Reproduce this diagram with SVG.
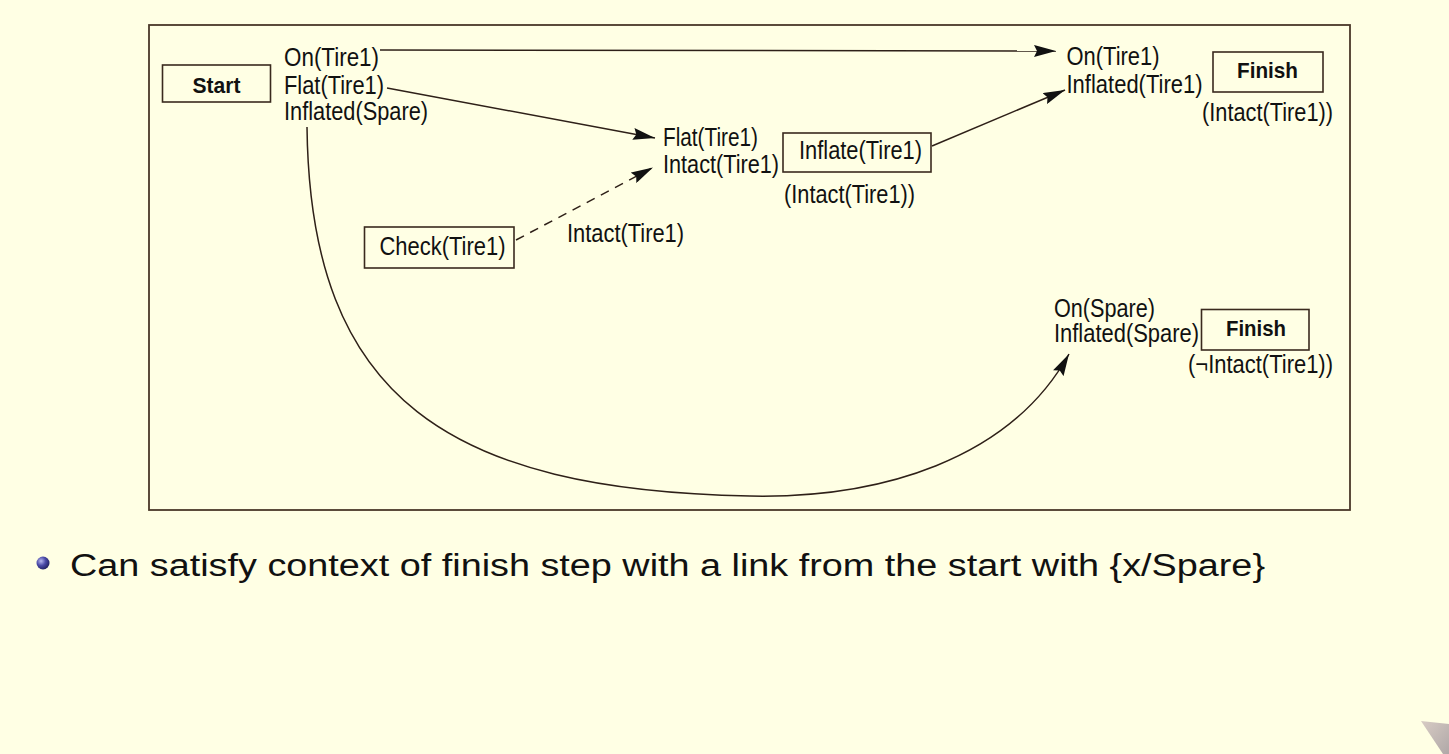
<svg xmlns="http://www.w3.org/2000/svg" width="1449" height="754" viewBox="0 0 1449 754">
<defs>
<style>
.t{font-family:"Liberation Sans",Arial,sans-serif;font-size:25px;fill:#111;}
.b{font-family:"Liberation Sans",Arial,sans-serif;font-size:22px;font-weight:bold;fill:#111;}
.box{fill:none;stroke:#3a2a1e;stroke-width:1.6;}
.ln{fill:none;stroke:#2e2018;stroke-width:1.5;}
.bul{font-family:"Liberation Sans",Arial,sans-serif;font-size:31px;fill:#111;}
</style>
<marker id="ah" viewBox="0 0 22 12" refX="22" refY="6" markerWidth="22" markerHeight="12" markerUnits="userSpaceOnUse" orient="auto">
<path d="M0,0 L22,6 L0,12 L3,6 z" fill="#111"/>
</marker>
<radialGradient id="bg" cx="0.35" cy="0.35" r="0.7">
<stop offset="0" stop-color="#b8b8f0"/>
<stop offset="0.5" stop-color="#4a4aa8"/>
<stop offset="1" stop-color="#202060"/>
</radialGradient>
<linearGradient id="curl" x1="0" y1="0" x2="1" y2="1">
<stop offset="0" stop-color="#d8ccc4"/>
<stop offset="1" stop-color="#b0a8a8"/>
</linearGradient>
</defs>
<rect width="1449" height="754" fill="#FFFFE4"/>
<rect x="149" y="25" width="1201" height="485" fill="none" stroke="#4a3828" stroke-width="1.8"/>

<g id="connectors">
<path class="ln" d="M380,50 L1056,51" marker-end="url(#ah)"/>
<path class="ln" d="M387,88 L655,138" marker-end="url(#ah)"/>
<path class="ln" d="M516,240 L653,167.5" stroke-dasharray="9,7" marker-end="url(#ah)"/>
<path class="ln" d="M932,146 L1065,90" marker-end="url(#ah)"/>
<path class="ln" d="M307,127 C310,400 450,490 750,496 C880,498.6 1010,460 1069,354" marker-end="url(#ah)"/>
</g>

<g id="start">
<rect class="box" x="162.5" y="65" width="108" height="37"/>
<text class="b" x="192.5" y="92.5" textLength="48" lengthAdjust="spacingAndGlyphs">Start</text>
<text class="t" x="284" y="65.5" textLength="95" lengthAdjust="spacingAndGlyphs">On(Tire1)</text>
<text class="t" x="284" y="93.5" textLength="100" lengthAdjust="spacingAndGlyphs">Flat(Tire1)</text>
<text class="t" x="284" y="120" textLength="144" lengthAdjust="spacingAndGlyphs">Inflated(Spare)</text>
</g>

<g id="finish1">
<text class="t" x="1066.5" y="65" textLength="93" lengthAdjust="spacingAndGlyphs">On(Tire1)</text>
<text class="t" x="1066.5" y="92.5" textLength="136" lengthAdjust="spacingAndGlyphs">Inflated(Tire1)</text>
<rect class="box" x="1213" y="52" width="110" height="40"/>
<text class="b" x="1237" y="78" textLength="61" lengthAdjust="spacingAndGlyphs">Finish</text>
<text class="t" x="1202" y="120.5" textLength="131" lengthAdjust="spacingAndGlyphs">(Intact(Tire1))</text>
</g>

<g id="inflate">
<text class="t" x="663" y="146" textLength="95" lengthAdjust="spacingAndGlyphs">Flat(Tire1)</text>
<text class="t" x="663" y="173" textLength="116" lengthAdjust="spacingAndGlyphs">Intact(Tire1)</text>
<rect class="box" x="783" y="133" width="148" height="39"/>
<text class="t" x="799" y="159" textLength="123" lengthAdjust="spacingAndGlyphs">Inflate(Tire1)</text>
<text class="t" x="784" y="203" textLength="131" lengthAdjust="spacingAndGlyphs">(Intact(Tire1))</text>
</g>

<g id="check">
<rect class="box" x="364.5" y="227" width="149.5" height="41"/>
<text class="t" x="379.5" y="255" textLength="126" lengthAdjust="spacingAndGlyphs">Check(Tire1)</text>
<text class="t" x="567" y="241.5" textLength="117" lengthAdjust="spacingAndGlyphs">Intact(Tire1)</text>
</g>

<g id="finish2">
<text class="t" x="1054" y="316.5" textLength="101" lengthAdjust="spacingAndGlyphs">On(Spare)</text>
<text class="t" x="1054" y="341.5" textLength="145" lengthAdjust="spacingAndGlyphs">Inflated(Spare)</text>
<rect class="box" x="1201.5" y="309.5" width="107.5" height="40.5"/>
<text class="b" x="1226" y="335.5" textLength="60" lengthAdjust="spacingAndGlyphs">Finish</text>
<text class="t" x="1188" y="372.5" textLength="145" lengthAdjust="spacingAndGlyphs">(¬Intact(Tire1))</text>
</g>

<g id="bullet">
<circle cx="43" cy="563" r="6.5" fill="url(#bg)"/>
<text class="bul" x="70" y="576" textLength="1195" lengthAdjust="spacingAndGlyphs">Can satisfy context of finish step with a link from the start with {x/Spare}</text>
</g>

<polygon points="1421,721 1449,724 1449,754 1443,754" fill="url(#curl)"/>
</svg>
